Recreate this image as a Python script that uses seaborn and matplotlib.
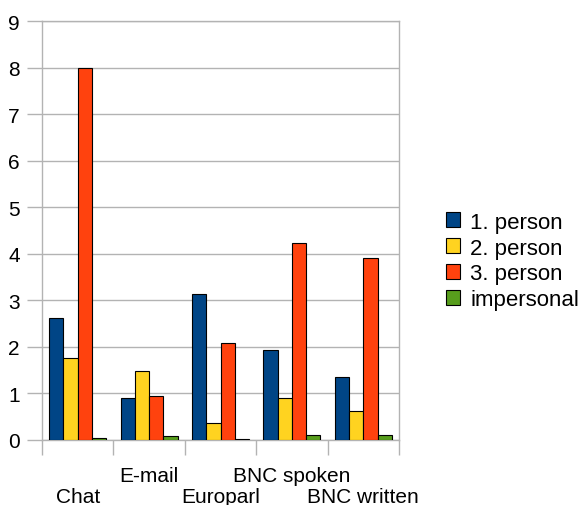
import pandas as pd
import numpy as np
import matplotlib.pyplot as plt
import seaborn as sns

corpora=["Chat","E-mail","Europarl","BNC spoken","BNC written"]
persons=["1. person","2. person","3. person","impersonal"]
first =[2.62,0.90,3.13,1.93,1.34]
second=[1.75,1.48,0.35,0.90,0.61]
third =[7.99,0.95,2.08,4.24,3.90]
impers=[0.03,0.09,0.01,0.10,0.11]
colors=["#004586","#ffd320","#ff420e","#579d1c"]

rows=[]
for name,vals in zip(persons,[first,second,third,impers]):
    for c,v in zip(corpora,vals):
        rows.append({"corpus":c,"person":name,"value":v})
df=pd.DataFrame(rows)

sns.set_style("white")
plt.rcParams['font.family']=['Liberation Sans','DejaVu Sans']
plt.rcParams['text.color']="black"
plt.rcParams['xtick.color']="black"
plt.rcParams['ytick.color']="black"

fig=plt.figure(figsize=(5.79,5.06),dpi=100)
ax=fig.add_axes([42/579,1-440.7/506,357/579,418.4/506])
sns.barplot(data=df,x="corpus",y="value",hue="person",order=corpora,hue_order=persons,
            palette=colors,saturation=1,width=0.8,edgecolor="black",linewidth=0.8,ax=ax,zorder=3)

grid="#b3b3b3"
ax.set_ylim(0,9)
ax.set_xlim(-0.5,4.5)
ax.set_yticks(range(10))
ax.yaxis.grid(True,color=grid,linewidth=1,zorder=0)
ax.set_axisbelow(True)
for s in ax.spines.values():
    s.set_color(grid)
    s.set_linewidth(1)
ax.tick_params(axis="y",length=11,color=grid,width=1,labelsize=15,labelcolor="black",pad=5,left=True)
ax.set_xticks(range(5))
ax.set_xticklabels([("\n"+c if i%2==0 else c) for i,c in enumerate(corpora)],linespacing=1.15)
ax.set_xticks(np.arange(-0.5,5,1),minor=True)
ax.tick_params(axis="x",which="major",length=0,labelsize=15,labelcolor="black",pad=19)
ax.tick_params(axis="x",which="minor",length=11,color=grid,width=1,bottom=True)
ax.set_xlabel("")
ax.set_ylabel("")

ax.legend(loc="center left",bbox_to_anchor=(446/579,1-262/506),bbox_transform=fig.transFigure,
          frameon=False,fontsize=16,handlelength=0.65,handleheight=0.65,handletextpad=0.45,
          labelspacing=0.22,borderaxespad=0,borderpad=0)

plt.savefig("out.png",dpi=100)
